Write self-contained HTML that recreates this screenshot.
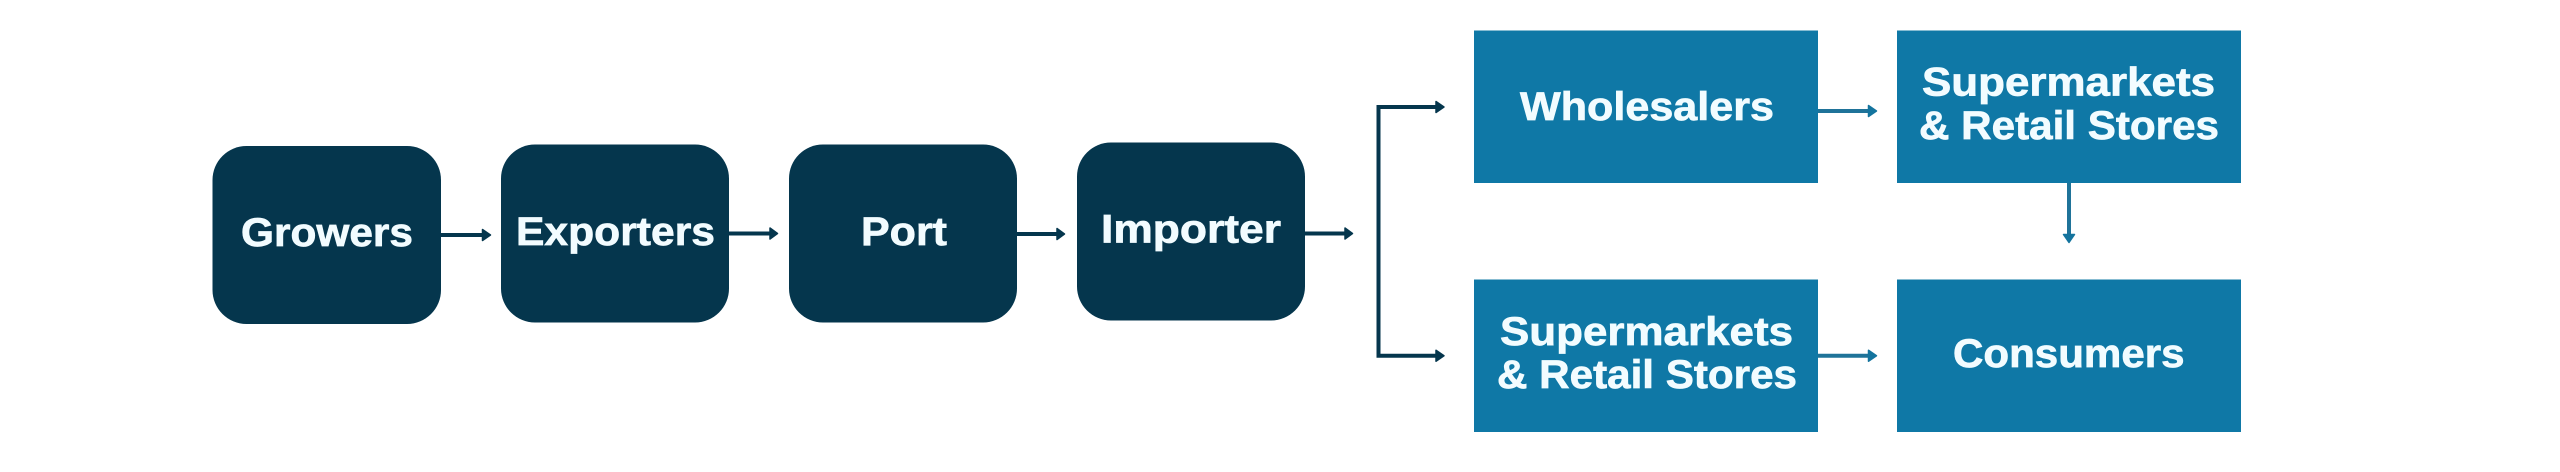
<!DOCTYPE html>
<html>
<head>
<meta charset="utf-8">
<style>
html,body{margin:0;padding:0;background:#fff;width:2560px;height:472px;overflow:hidden}
svg{display:block}
text{font-family:"Liberation Sans",sans-serif;font-weight:700;font-size:40px;fill:#f2fcff;stroke:#f2fcff;stroke-width:.7}
</style>
</head>
<body>
<svg width="2560" height="472" viewBox="0 0 2560 472" xmlns="http://www.w3.org/2000/svg">
<rect width="2560" height="472" fill="#fff"/>
<g fill="#05364d">
<rect x="212.5" y="146" width="228.5" height="178" rx="34"/>
<rect x="501" y="144.5" width="228" height="178" rx="34"/>
<rect x="789" y="144.5" width="228" height="178" rx="34"/>
<rect x="1077" y="142.5" width="228" height="178" rx="34"/>
</g>
<g fill="#0f78a6">
<rect x="1474" y="30.5" width="344" height="152.5"/>
<rect x="1897" y="30.5" width="344" height="152.5"/>
<rect x="1474" y="279.5" width="344" height="152.5"/>
<rect x="1897" y="279.5" width="344" height="152.5"/>
</g>
<g stroke="#05364d" stroke-width="4" fill="none">
<path d="M441 235H484"/>
<path d="M729 233.5H772"/>
<path d="M1017 234H1059"/>
<path d="M1305 233.5H1347"/>
<path d="M1438 107H1378.5V355.7H1438"/>
</g>
<g fill="#05364d" stroke="#05364d" stroke-width="1.5" stroke-linejoin="round">
<path d="M482.5 229.5L490.5 235L482.5 240.5Z"/>
<path d="M770 228L777.5 233.5L770 239Z"/>
<path d="M1057 228.5L1064.5 234L1057 239.5Z"/>
<path d="M1345 228L1352.5 233.5L1345 239Z"/>
<path d="M1436 101.5L1444 107L1436 112.5Z"/>
<path d="M1436 350.2L1444 355.7L1436 361.2Z"/>
</g>
<g stroke="#1f7399" stroke-width="4" fill="none">
<path d="M1818 111H1871"/>
<path d="M1818 355.7H1871"/>
<path d="M2069 183V236"/>
</g>
<g fill="#14749e" stroke="#14749e" stroke-width="1.5" stroke-linejoin="round">
<path d="M1868.5 105.5L1876.5 111L1868.5 116.5Z"/>
<path d="M1868.5 350.2L1876.5 355.7L1868.5 361.2Z"/>
<path d="M2063.5 234.5L2069 242.5L2074.5 234.5Z"/>
</g>
<text x="241" y="246" textLength="172" lengthAdjust="spacingAndGlyphs">Growers</text>
<text x="516" y="245" textLength="199" lengthAdjust="spacingAndGlyphs">Exporters</text>
<text x="861" y="245" textLength="86" lengthAdjust="spacingAndGlyphs">Port</text>
<text x="1101" y="242.7" textLength="180" lengthAdjust="spacingAndGlyphs">Importer</text>
<text x="1520" y="120" textLength="254" lengthAdjust="spacingAndGlyphs">Wholesalers</text>
<text x="1922" y="95.7" textLength="293" lengthAdjust="spacingAndGlyphs">Supermarkets</text>
<text x="1919" y="139" textLength="300" lengthAdjust="spacingAndGlyphs">&amp; Retail Stores</text>
<text x="1500" y="345" textLength="293" lengthAdjust="spacingAndGlyphs">Supermarkets</text>
<text x="1497" y="388" textLength="300" lengthAdjust="spacingAndGlyphs">&amp; Retail Stores</text>
<text x="1953" y="367" textLength="231.5" lengthAdjust="spacingAndGlyphs">Consumers</text>
</svg>
</body>
</html>
